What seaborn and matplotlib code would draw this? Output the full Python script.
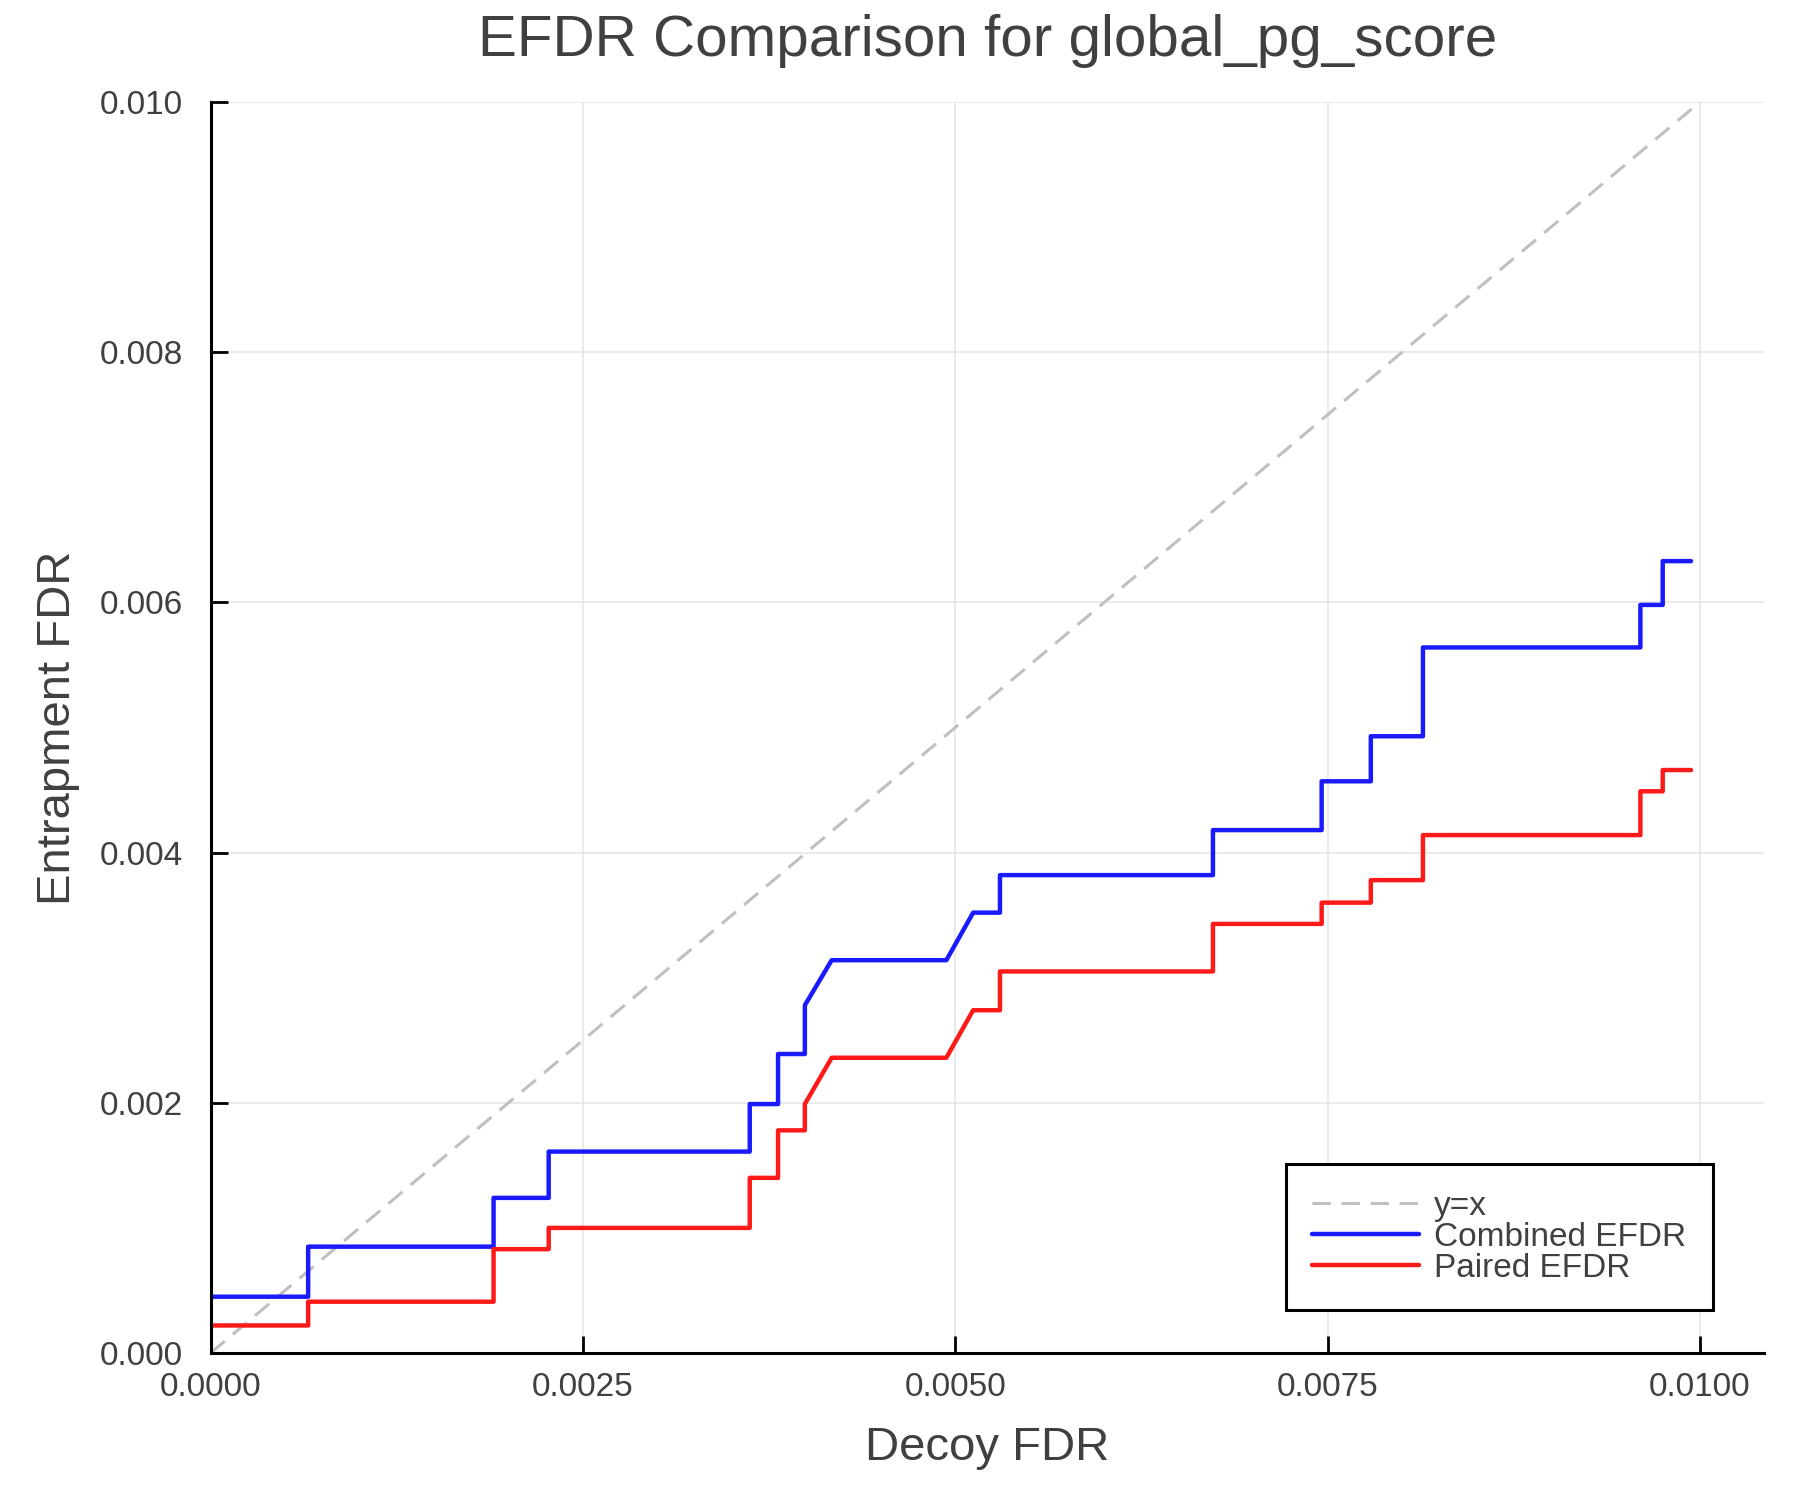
import matplotlib
matplotlib.use("Agg")
import matplotlib.pyplot as plt
import seaborn as sns
import pandas as pd

# vertices of the two EFDR curves
combined_x = [0.0, 0.0, 0.000655, 0.000655, 0.0019, 0.0019, 0.00227, 0.00227,
              0.00362, 0.00362, 0.00381, 0.00381, 0.00399, 0.00399, 0.00417,
              0.00494, 0.00512, 0.0053, 0.0053, 0.00673, 0.00673, 0.00746,
              0.00746, 0.00779, 0.00779, 0.00814, 0.00814, 0.0096, 0.0096,
              0.00975, 0.00975, 0.00994]
combined_y = [0.0, 0.00045, 0.00045, 0.00085, 0.00085, 0.00124, 0.00124, 0.00161,
              0.00161, 0.00199, 0.00199, 0.00239, 0.00239, 0.00278, 0.00314,
              0.00314, 0.00352, 0.00352, 0.00382, 0.00382, 0.00418, 0.00418,
              0.00457, 0.00457, 0.00493, 0.00493, 0.00564, 0.00564, 0.00598,
              0.00598, 0.00633, 0.00633]

paired_x = [0.0, 0.0, 0.000655, 0.000655, 0.0019, 0.0019, 0.00227, 0.00227,
            0.00362, 0.00362, 0.00381, 0.00381, 0.00399, 0.00399, 0.00417,
            0.00494, 0.00512, 0.0053, 0.0053, 0.00673, 0.00673, 0.00746,
            0.00746, 0.00779, 0.00779, 0.00814, 0.00814, 0.0096, 0.0096,
            0.00975, 0.00975, 0.00994]
paired_y = [0.0, 0.00022, 0.00022, 0.00041, 0.00041, 0.00083, 0.00083, 0.001,
            0.001, 0.0014, 0.0014, 0.00178, 0.00178, 0.00199, 0.00236,
            0.00236, 0.00274, 0.00274, 0.00305, 0.00305, 0.00343, 0.00343,
            0.0036, 0.0036, 0.00378, 0.00378, 0.00414, 0.00414, 0.00449,
            0.00449, 0.00466, 0.00466]

diag = [0.0, 0.01]

x_ticks = [0.0, 0.0025, 0.005, 0.0075, 0.01]
x_tick_labels = ["0.0000", "0.0025", "0.0050", "0.0075", "0.0100"]
y_ticks = [0.0, 0.002, 0.004, 0.006, 0.008, 0.01]
y_tick_labels = ["0.000", "0.002", "0.004", "0.006", "0.008", "0.010"]

TEXT = "#404040"

sns.set_style("ticks")
plt.rcParams['font.family'] = ['Liberation Sans', 'DejaVu Sans']

fig, ax = plt.subplots(figsize=(18, 15), dpi=100)
fig.subplots_adjust(left=0.117, right=0.98, bottom=0.098, top=0.932)

ax.grid(True, color="#e6e6e6", linewidth=1.2)
ax.set_axisbelow(True)

sns.lineplot(x=diag, y=diag, ax=ax, color="#c0c0c0", linewidth=2.2,
             linestyle=(0, (6, 3.5)), label="y=x", sort=False, estimator=None)
df_c = pd.DataFrame({"x": combined_x, "y": combined_y})
df_p = pd.DataFrame({"x": paired_x, "y": paired_y})
sns.lineplot(data=df_c, x="x", y="y", ax=ax, color="#1a1aff", linewidth=3.2,
             label="Combined EFDR", sort=False, estimator=None)
sns.lineplot(data=df_p, x="x", y="y", ax=ax, color="#ff1a1a", linewidth=3.2,
             label="Paired EFDR", sort=False, estimator=None)

ax.set_xlim(0, 0.01043)
ax.set_ylim(0, 0.01)
ax.set_xticks(x_ticks)
ax.set_xticklabels(x_tick_labels)
ax.set_yticks(y_ticks)
ax.set_yticklabels(y_tick_labels)
ax.tick_params(direction="in", length=12, width=2, colors="black",
               labelcolor=TEXT, labelsize=24)
ax.tick_params(axis="x", pad=14)
ax.tick_params(axis="y", pad=20)

for side in ["top", "right"]:
    ax.spines[side].set_visible(False)
for side in ["left", "bottom"]:
    ax.spines[side].set_linewidth(2.2)
    ax.spines[side].set_color("black")

ax.set_xlabel("Decoy FDR", fontsize=34, color=TEXT, labelpad=16)
ax.set_ylabel("Entrapment FDR", fontsize=34, color=TEXT, labelpad=14)
# fixed y so the title sits high like the reference
ax.set_title("EFDR Comparison for global_pg_score", fontsize=42, color=TEXT,
             y=1.042, va="center")

leg = ax.legend(loc="lower right", bbox_to_anchor=(0.967, 0.034), fontsize=24,
                frameon=True, fancybox=False, handlelength=3.2, labelspacing=0.0,
                borderpad=0.8, handletextpad=0.45, borderaxespad=0)
leg.get_frame().set_edgecolor("black")
leg.get_frame().set_linewidth(2.2)
leg.get_frame().set_alpha(1)
for t in leg.get_texts():
    t.set_color(TEXT)

fig.savefig("out.png", dpi=100)
